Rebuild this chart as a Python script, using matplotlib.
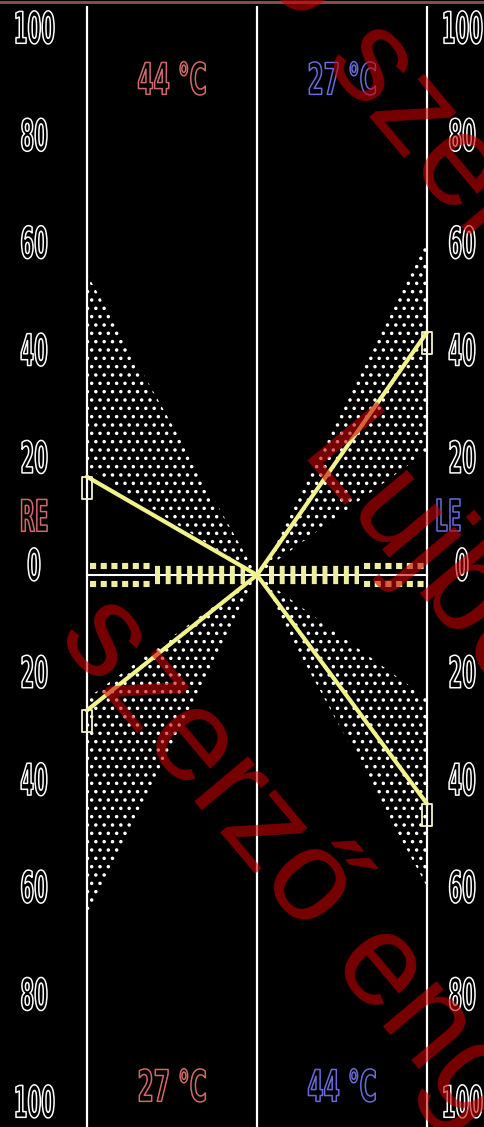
import numpy as np
import matplotlib
matplotlib.use("Agg")
import matplotlib.pyplot as plt
from matplotlib.path import Path
from matplotlib.patches import Polygon
from matplotlib.lines import Line2D
import matplotlib.patheffects as pe
import matplotlib.transforms as mtransforms

# ---- data -------------------------------------------------------------
# Velocity scale printed on both sides (magnitude up and down from zero)
tick_values = [100, 80, 60, 40, 20, 0, -20, -40, -60, -80, -100]
tick_labels = ["100", "80", "60", "40", "20", "0", "20", "40", "60", "80", "100"]

# Rails: right ear on the left rail, left ear on the right rail, meeting in the centre
rail_positions = [0.0, 1.0, 2.0]
ear_labels = ["RE", "LE"]
ear_colors = ["#D06A6A", "#6A6AD8"]

# Irrigation temperatures above and below each half
top_temps = ["44 °C", "27 °C"]
bottom_temps = ["27 °C", "44 °C"]

# Caloric responses read at the outer rails
re_44 = 18.3
re_27 = -25.2
le_27 = 45.2
le_44 = -42.6

# Normal ranges at the outer rails (inner bound, outer bound)
norm_re_44 = (20, 56)
norm_re_27 = (-23, -64)
norm_le_27 = (23, 63)
norm_le_44 = (-23, -58)

# Tolerance band around zero
zero_band = 1.7

# ---- style ------------------------------------------------------------
W, H = 485, 1127
PX_PER_X = 170.0      # pixels per rail spacing
PX_PER_V = 5.37       # pixels per unit of response
X0_PX, Y0_PX = 87.0, 575.0

plt.rcParams["hatch.linewidth"] = 1.3
plt.rcParams["hatch.color"] = "white"
plt.rcParams["lines.scale_dashes"] = False

line_yellow = "#F2F28A"
band_yellow = "#EEEEA0"
marker_color = "#F4F4C8"
label_family = ["DejaVu Sans"]


class StretchedOutline(pe.AbstractPathEffect):
    """Draw glyphs hollow (black fill, thin coloured outline), squeezed
    horizontally and stretched vertically about their own centre."""

    def __init__(self, sx, sy, edge, width):
        super().__init__()
        self.sx, self.sy, self.edge, self.width = sx, sy, edge, width

    def draw_path(self, renderer, gc, tpath, affine, rgbFace=None):
        ext = tpath.get_extents()
        cx = 0.5 * (ext.x0 + ext.x1)
        cy = 0.5 * (ext.y0 + ext.y1)
        local = (mtransforms.Affine2D().translate(-cx, -cy)
                 .scale(self.sx, self.sy).translate(cx, cy))
        gc0 = renderer.new_gc()
        gc0.copy_properties(gc)
        gc0.set_foreground(self.edge)
        gc0.set_linewidth(self.width)
        renderer.draw_path(gc0, tpath, local + affine, (0, 0, 0, 1))
        gc0.restore()


def label_style(color, sx=0.68, sy=1.5, size=21):
    return dict(fontsize=size, fontweight="bold", family=label_family,
                path_effects=[StretchedOutline(sx, sy, color, 1.1)])


fig = plt.figure(figsize=(W / 100, H / 100), dpi=100, facecolor="black")
ax = fig.add_axes([0, 0, 1, 1])
ax.set_facecolor("black")
ax.set_xlim(-X0_PX / PX_PER_X, (W - X0_PX) / PX_PER_X)
ax.set_ylim(-(H - Y0_PX) / PX_PER_V, Y0_PX / PX_PER_V)
ax.axis("off")

# normal-range wedges, dotted, converging to the centre
center = rail_positions[1]
wedges = [(rail_positions[0], norm_re_44), (rail_positions[0], norm_re_27),
          (rail_positions[2], norm_le_27), (rail_positions[2], norm_le_44)]
for x_edge, (a, b) in wedges:
    ax.add_patch(Polygon([(x_edge, a), (x_edge, b), (center, 0)], closed=True,
                         facecolor="none", edgecolor="white", linewidth=0,
                         hatch="..", zorder=2))

# rails and zero line
ax.vlines(rail_positions, -120, 106, colors="white", lw=1.6, zorder=3)
ax.plot([rail_positions[0], rail_positions[2]], [0, 0], color="white", lw=1.5, zorder=3)

# tolerance band around zero: outer square rows and inner bars
outer_spans = [(0.02, 0.37), (1.63, 1.98)]
inner_spans = [(0.40, 0.93), (1.07, 1.60)]
for x_a, x_b in outer_spans:
    for s in (1, -1):
        ax.plot([x_a, x_b], [s * zero_band, s * zero_band], color=band_yellow,
                lw=4.4, dashes=(4.4, 3.3), dash_capstyle="butt", zorder=4)
for x_a, x_b in inner_spans:
    ax.plot([x_a, x_b], [0, 0], color=band_yellow, lw=2 * zero_band * PX_PER_V * 0.72,
            dashes=(3.6, 4.1), dash_capstyle="butt", zorder=4)

# response lines with end markers (marker hangs below the point)
end_marker = Path([(-0.24, 0.0), (0.24, 0.0), (0.24, -1.0), (-0.24, -1.0), (-0.24, 0.0)],
                  [Path.MOVETO, Path.LINETO, Path.LINETO, Path.LINETO, Path.CLOSEPOLY])
responses = [(rail_positions[0], re_44), (rail_positions[0], re_27),
             (rail_positions[2], le_27), (rail_positions[2], le_44)]
for x_edge, v in responses:
    ax.plot([x_edge, center], [v, 0], color=line_yellow, lw=3.0,
            solid_capstyle="round", zorder=5)
    ax.plot([x_edge], [v], linestyle="none", marker=end_marker, ms=32,
            mfc="none", mec=marker_color, mew=1.3, zorder=6)

# scale labels on both sides
lab_tr = mtransforms.offset_copy(ax.transData, fig=fig, x=0, y=8, units="dots")
left_x = (34 - X0_PX) / PX_PER_X
right_x = (462 - X0_PX) / PX_PER_X
for v, lab in zip(tick_values, tick_labels):
    for xx in (left_x, right_x):
        ax.text(xx, v, lab, transform=lab_tr, ha="center", va="center",
                zorder=7, **label_style("white"))

# ear labels
ear_y = (Y0_PX - 518) / PX_PER_V
ax.text(left_x, ear_y, ear_labels[0], ha="center", va="center", zorder=7,
        **label_style(ear_colors[0]))
ax.text((448 - X0_PX) / PX_PER_X, ear_y, ear_labels[1], ha="center", va="center",
        zorder=7, **label_style(ear_colors[1]))

# temperatures
temp_x = [(rail_positions[0] + center) / 2, (center + rail_positions[2]) / 2]
top_y = (Y0_PX - 81) / PX_PER_V
bottom_y = (Y0_PX - 1088) / PX_PER_V
for xx, t, c in zip(temp_x, top_temps, ear_colors):
    ax.text(xx, top_y, t, ha="center", va="center", zorder=7,
            **label_style(c, sx=0.8))
for xx, t, c in zip(temp_x, bottom_temps, ear_colors):
    ax.text(xx, bottom_y, t, ha="center", va="center", zorder=7,
            **label_style(c, sx=0.8))

# thin frame line along the top edge
fig.add_artist(Line2D([0, 1], [1 - 1.5 / H] * 2, transform=fig.transFigure,
                      color="#8A4A4A", lw=2.2))

# diagonal permission watermark
wm = dict(color="#C80000", alpha=0.6, fontsize=95, family=["Liberation Sans", "DejaVu Sans"],
          rotation=-50, rotation_mode="anchor", va="baseline", zorder=20)


def fx(px):
    return px / W


def fy(py):
    return 1 - py / H


fig.text(fx(299), fy(34), "Lujbó", ha="right", **wm)
fig.text(fx(323), fy(62), "szerző engedélyével", ha="left", **wm)
fig.text(fx(300), fy(452), "Lujbó szerző engedélyével", ha="left", **wm)
fig.text(fx(56), fy(637), "szerző engedélyével", ha="left", **wm)

fig.savefig("out.png", dpi=100, facecolor="black")
